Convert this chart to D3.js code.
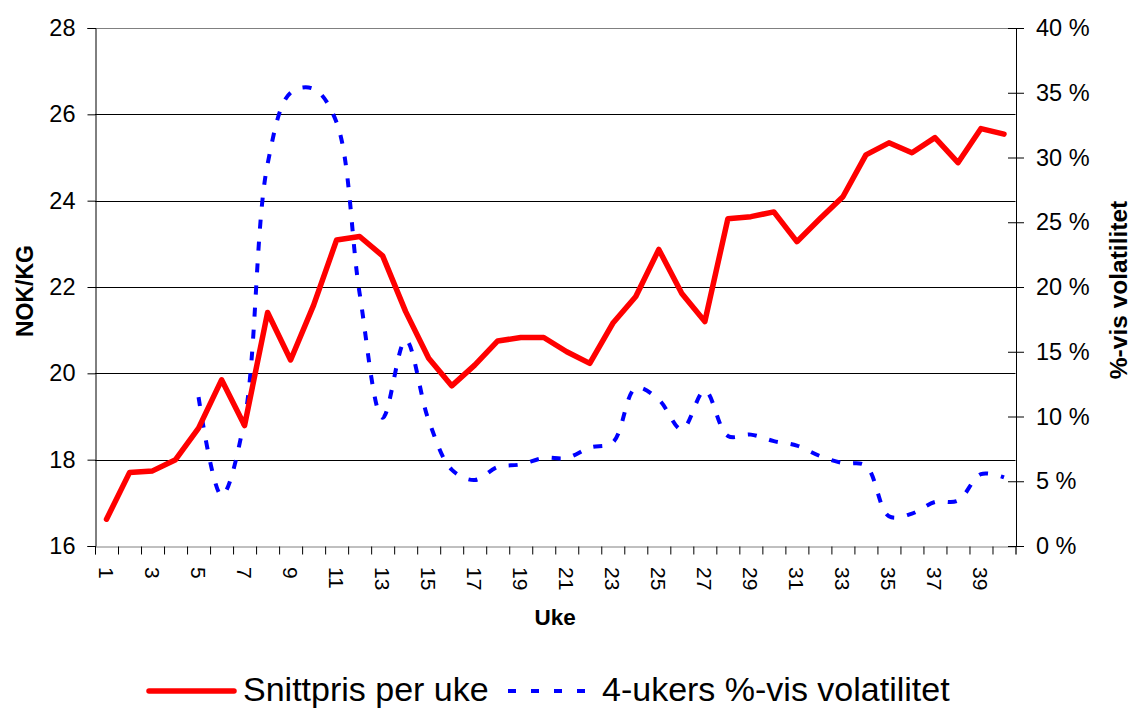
<!DOCTYPE html>
<html>
<head>
<meta charset="utf-8">
<script src="https://cdn.jsdelivr.net/npm/d3@7"></script>
<style>
  body { margin: 0; background: #fff; }
  text { font-family: "Liberation Sans", Arial, sans-serif; fill: #000; }
</style>
</head>
<body>
<div id="chart"></div>
<script>
// weeks 1..40
var weeks = d3.range(1, 41);

// average price per week (NOK/KG)
var snittpris = [16.62, 17.70, 17.74, 18.00, 18.73, 19.85, 18.79, 21.41, 20.31, 21.58,
                 23.09, 23.17, 22.72, 21.43, 20.35, 19.71, 20.19, 20.75, 20.83, 20.83,
                 20.50, 20.23, 21.16, 21.78, 22.87, 21.85, 21.20, 23.58, 23.63, 23.74,
                 23.05, 23.58, 24.09, 25.06, 25.34, 25.11, 25.46, 24.88, 25.67, 25.54];

// 4-week volatility in %, no value for weeks 1-4
var volatilitet = [null, null, null, null, 11.5, 3.9, 9.8, 29.5, 35.0, 35.3,
                   32.7, 19.5, 9.9, 15.9, 9.7, 5.9, 5.1, 6.1, 6.3, 6.8,
                   6.8, 7.6, 8.0, 12.2, 11.3, 9.0, 12.0, 8.5, 8.6, 8.1,
                   7.75, 6.95, 6.4, 6.2, 2.3, 2.5, 3.4, 3.5, 5.55, 5.3];

var leftTicks = [16, 18, 20, 22, 24, 26, 28];
var rightTicks = [0, 5, 10, 15, 20, 25, 30, 35, 40];
var xLabels = weeks.filter(function (w) { return w % 2 === 1; });

var W = 1131, H = 709;
var plotL = 95, plotR = 1015.5, plotT = 28, plotB = 546;

var svg = d3.select("#chart")
  .append("svg")
    .attr("width", W)
    .attr("height", H);

var x = d3.scaleBand()
  .domain(weeks)
  .range([plotL, plotR])
  .padding(0);

var xEdge = d3.scaleLinear()
  .domain([0, weeks.length])
  .range([plotL, plotR]);

var y = d3.scaleLinear()
  .domain([16, 28])
  .range([plotB, plotT]);

var y2 = d3.scaleLinear()
  .domain([0, 40])
  .range([plotB, plotT]);

// gridlines
svg.append("g")
  .selectAll("line")
  .data(leftTicks.slice(1))
  .enter()
  .append("line")
    .attr("x1", plotL)
    .attr("x2", plotR)
    .attr("y1", function (d) { return Math.round(y(d)) + 0.5; })
    .attr("y2", function (d) { return Math.round(y(d)) + 0.5; })
    .attr("stroke", function (d) { return d === 28 ? "#808080" : "#000"; })
    .attr("stroke-width", 1);

// bottom axis: ticks at category edges
svg.append("g")
  .attr("transform", "translate(0," + (plotB + 0.5) + ")")
  .call(d3.axisBottom(xEdge).tickValues(d3.range(0, 41)).tickSize(8).tickFormat(""))
  .call(function (g) {
    g.select(".domain").attr("stroke", "#808080");
    g.selectAll(".tick line").attr("stroke", "#000");
  });

// bottom labels, rotated
svg.append("g")
  .attr("transform", "translate(0," + plotB + ")")
  .call(d3.axisBottom(x).tickValues(xLabels).tickSize(0))
  .call(function (g) {
    g.select(".domain").remove();
    g.selectAll("text")
      .attr("transform", "rotate(90)")
      .attr("x", 21)
      .attr("y", 0)
      .attr("dy", "0.36em")
      .style("text-anchor", "start")
      .style("font-size", "21px")
      .style("font-family", "Liberation Sans, Arial, sans-serif");
  });

// left axis
svg.append("g")
  .attr("transform", "translate(" + (plotL + 0.5) + ",0)")
  .call(d3.axisLeft(y).tickValues(leftTicks).tickSize(8).tickPadding(12))
  .call(function (g) {
    g.select(".domain").attr("stroke", "#000");
    g.selectAll("text")
      .style("font-size", "23.5px")
      .style("font-family", "Liberation Sans, Arial, sans-serif");
  });

// right axis, ticks crossing the line
svg.append("g")
  .attr("transform", "translate(" + (plotR + 0.5) + ",0)")
  .call(d3.axisRight(y2).tickValues(rightTicks).tickSize(8).tickPadding(12)
        .tickFormat(function (d) { return d + " %"; }))
  .call(function (g) {
    g.select(".domain").attr("stroke", "#000");
    g.selectAll(".tick line").attr("x1", -8);
    g.selectAll("text")
      .attr("x", 20)
      .style("font-size", "23.5px")
      .style("font-family", "Liberation Sans, Arial, sans-serif");
  });

// axis titles
svg.append("text")
  .attr("transform", "translate(33," + ((plotT + plotB) / 2 + 4) + ") rotate(-90)")
  .style("text-anchor", "middle")
  .attr("font-weight", 700)
  .style("font-size", "23px")
  .text("NOK/KG");

svg.append("text")
  .attr("transform", "translate(1127," + ((plotT + plotB) / 2 + 3) + ") rotate(-90)")
  .style("text-anchor", "middle")
  .attr("font-weight", 700)
  .style("font-size", "24.5px")
  .text("%-vis volatilitet");

svg.append("text")
  .attr("x", (plotL + plotR) / 2)
  .attr("y", 625)
  .style("text-anchor", "middle")
  .attr("font-weight", 700)
  .style("font-size", "22.5px")
  .text("Uke");

// volatility line (smoothed, dashed)
var volLine = d3.line()
  .defined(function (d) { return d.v !== null; })
  .x(function (d) { return x(d.w) + x.bandwidth() / 2; })
  .y(function (d) { return y2(d.v); })
  .curve(d3.curveCatmullRom.alpha(0.5));

svg.append("path")
  .datum(weeks.map(function (w, i) { return {w: w, v: volatilitet[i]}; }))
  .attr("d", volLine)
  .attr("fill", "none")
  .attr("stroke", "#0000ff")
  .attr("stroke-width", 4)
  .attr("stroke-dasharray", "9,13");

// price line
var priceLine = d3.line()
  .x(function (d) { return x(d.w) + x.bandwidth() / 2; })
  .y(function (d) { return y(d.v); });

svg.append("path")
  .datum(weeks.map(function (w, i) { return {w: w, v: snittpris[i]}; }))
  .attr("d", priceLine)
  .attr("fill", "none")
  .attr("stroke", "#ff0000")
  .attr("stroke-width", 5.5)
  .attr("stroke-linejoin", "round")
  .attr("stroke-linecap", "round");

// legend
var legend = svg.append("g");
legend.append("line")
  .attr("x1", 149).attr("x2", 234)
  .attr("y1", 691).attr("y2", 691)
  .attr("stroke", "#ff0000")
  .attr("stroke-width", 5.5)
  .attr("stroke-linecap", "round");
legend.append("text")
  .attr("x", 243).attr("y", 701)
  .style("font-size", "34px")
  .text("Snittpris per uke");
legend.append("line")
  .attr("x1", 508).attr("x2", 590)
  .attr("y1", 691).attr("y2", 691)
  .attr("stroke", "#0000ff")
  .attr("stroke-width", 4)
  .attr("stroke-dasharray", "8,15");
legend.append("text")
  .attr("x", 602).attr("y", 701)
  .style("font-size", "34px")
  .text("4-ukers %-vis volatilitet");
</script>
</body>
</html>
